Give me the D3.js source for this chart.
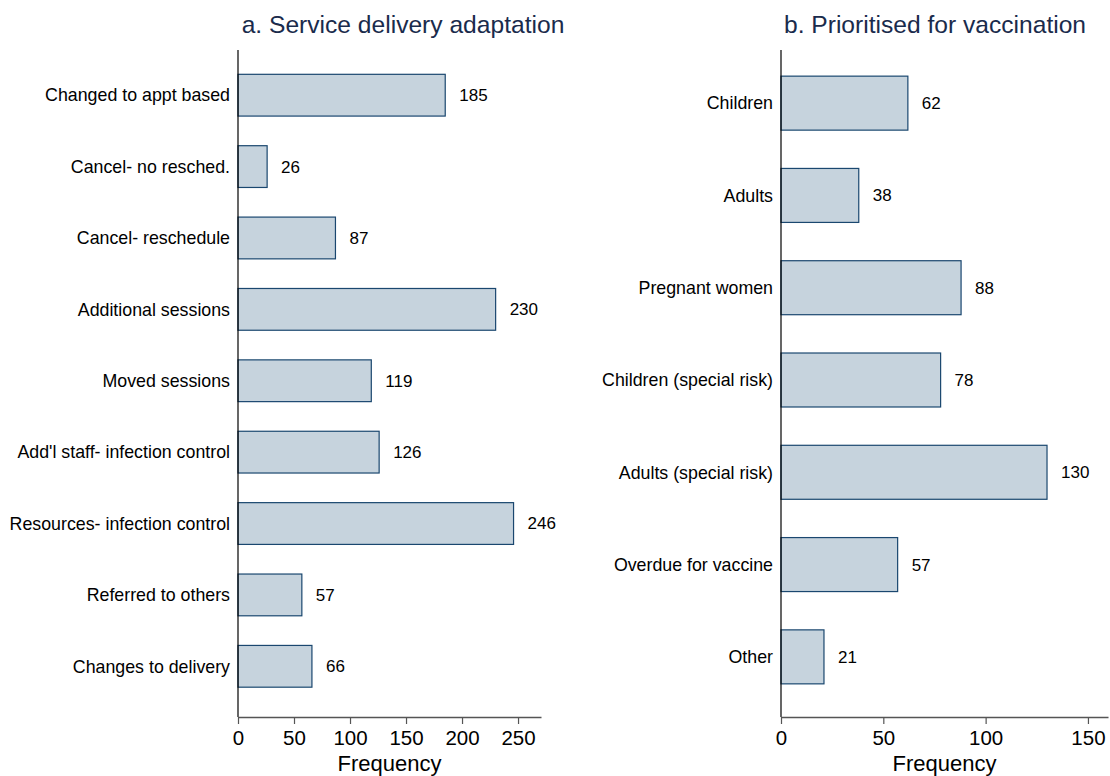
<!DOCTYPE html>
<html>
<head>
<meta charset="utf-8">
<script src="https://cdn.jsdelivr.net/npm/d3@7"></script>
<style>
  body { margin: 0; background: #fff; }
  svg { font-family: "Liberation Sans", Arial, sans-serif; }
</style>
</head>
<body>
<svg id="chart" width="1110" height="776"></svg>
<script>
const adaptCats = [
  "Changed to appt based", "Cancel- no resched.", "Cancel- reschedule",
  "Additional sessions", "Moved sessions", "Add'l staff- infection control",
  "Resources- infection control", "Referred to others", "Changes to delivery",
];
const adaptVals = [185, 26, 87, 230, 119, 126, 246, 57, 66];
const adaptTicks = [0, 50, 100, 150, 200, 250];

const prioCats = [
  "Children", "Adults", "Pregnant women", "Children (special risk)",
  "Adults (special risk)", "Overdue for vaccine", "Other",
];
const prioVals = [62, 38, 88, 78, 130, 57, 21];
const prioTicks = [0, 50, 100, 150];

const svg = d3.select("#chart");
const fill = "#c6d3dd", stroke = "#1a476f", titleColor = "#1a2b4c";

function panel({ cats, vals, ticks, title, x0, xMax, domainMax, yTop, yBot, titleX }) {
  const g = svg.append("g");
  const x = d3.scaleLinear().domain([0, domainMax]).range([x0, xMax]);
  const y = d3.scaleBand().domain(cats).range([yTop, yBot]).paddingInner(0.415).paddingOuter(0.2075);
  const axisY = 717;

  g.append("text").attr("x", titleX).attr("y", 33).attr("text-anchor", "middle")
    .attr("font-size", 24.6).attr("fill", titleColor).text(title);

  g.selectAll("rect.bar").data(vals).join("rect").attr("class", "bar")
    .attr("x", x(0)).attr("y", (d, i) => y(cats[i]))
    .attr("width", (d) => x(d) - x(0)).attr("height", y.bandwidth())
    .attr("fill", fill).attr("stroke", stroke).attr("stroke-width", 1.2);

  g.selectAll("text.val").data(vals).join("text").attr("class", "val")
    .attr("x", (d) => x(d) + 14).attr("y", (d, i) => y(cats[i]) + y.bandwidth() / 2)
    .attr("dy", "0.35em").attr("font-size", 17).text((d) => d);

  g.selectAll("text.cat").data(cats).join("text").attr("class", "cat")
    .attr("x", x0 - 8).attr("y", (d) => y(d) + y.bandwidth() / 2)
    .attr("dy", "0.35em").attr("text-anchor", "end").attr("font-size", 17.8).text((d) => d);

  // y axis line
  g.append("line").attr("x1", x0).attr("x2", x0).attr("y1", 50).attr("y2", axisY)
    .attr("stroke", "#000").attr("stroke-width", 1.2);

  const xa = g.append("g").attr("transform", `translate(0,${axisY})`)
    .call(d3.axisBottom(x).tickValues(ticks).tickSize(7).tickPadding(6).tickSizeOuter(0));
  xa.select(".domain").attr("stroke", "#555").attr("stroke-width", 1.5);
  xa.selectAll(".tick line").attr("stroke", "#555").attr("stroke-width", 1.2);
  xa.selectAll(".tick text").attr("font-size", 20.5).attr("fill", "#000")
    .attr("font-family", "Liberation Sans, Arial, sans-serif");

  g.append("text").attr("x", (x0 + xMax) / 2).attr("y", 771)
    .attr("text-anchor", "middle").attr("font-size", 22).text("Frequency");
}

panel({
  cats: adaptCats, vals: adaptVals, ticks: adaptTicks,
  title: "a. Service delivery adaptation",
  x0: 238, xMax: 541, domainMax: 270.5, yTop: 59.5, yBot: 702, titleX: 403,
});

panel({
  cats: prioCats, vals: prioVals, ticks: prioTicks,
  title: "b. Prioritised for vaccination",
  x0: 781, xMax: 1108, domainMax: 159.8, yTop: 57, yBot: 703, titleX: 935,
});
</script>
</body>
</html>
